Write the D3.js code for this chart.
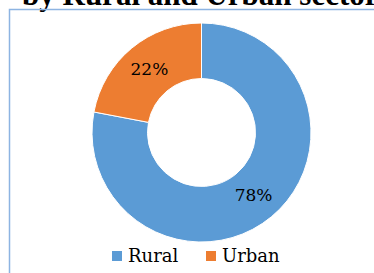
<!DOCTYPE html>
<html>
<head>
<meta charset="utf-8">
<script src="https://cdn.jsdelivr.net/npm/d3@7"></script>
<style>
  body { margin: 0; background: #fff; }
  svg { display: block; }
</style>
</head>
<body>
<svg id="svg" width="374" height="273"></svg>
<script>
var sectors = ["Rural", "Urban"];
var shares = [78, 22];
var colours = ["#5b9bd5", "#ed7d31"];
var title = "by Rural and Urban sector";

function draw() {
  var svg = d3.select("#svg");

  // title (cut off at the top in the original)
  svg.append("text")
    .attr("x", 22)
    .attr("y", 5)
    .attr("font-family", "Liberation Serif")
    .attr("font-weight", "bold")
    .attr("font-size", 31)
    .attr("fill", "#000")
    .text(title);

  // chart frame, runs off the right and bottom edges
  svg.append("path")
    .attr("d", "M9.5,280 L9.5,9.5 L380,9.5")
    .attr("fill", "none")
    .attr("stroke", "#8db4e2")
    .attr("stroke-width", 1.5);

  var cx = 201.5, cy = 132.5;
  var outerR = 109.5, innerR = 54;

  var colour = d3.scaleOrdinal().domain(sectors).range(colours);

  var pie = d3.pie().sort(null).value(function(d) { return d.v; });
  var data = sectors.map(function(s, i) { return {name: s, v: shares[i]}; });
  var arcs = pie(data);

  var arc = d3.arc().innerRadius(innerR).outerRadius(outerR);
  var labelArc = d3.arc().innerRadius((innerR + outerR) / 2).outerRadius((innerR + outerR) / 2);

  var g = svg.append("g").attr("transform", "translate(" + cx + "," + cy + ")");

  g.selectAll("path.slice")
    .data(arcs)
    .enter()
    .append("path")
    .attr("class", "slice")
    .attr("d", arc)
    .attr("fill", function(d) { return colour(d.data.name); })
    .attr("stroke", "#fff")
    .attr("stroke-width", 1);

  g.selectAll("text.lbl")
    .data(arcs)
    .enter()
    .append("text")
    .attr("class", "lbl")
    .attr("transform", function(d) { return "translate(" + labelArc.centroid(d) + ")"; })
    .attr("text-anchor", "middle")
    .attr("dy", "0.35em")
    .attr("font-family", "DejaVu Serif")
    .attr("font-size", 17)
    .attr("fill", "#000")
    .text(function(d) { return d.data.v + "%"; });

  // legend
  var legendX = d3.scaleOrdinal().domain(sectors).range([112, 206]);
  var lg = svg.selectAll("g.legend")
    .data(sectors)
    .enter()
    .append("g")
    .attr("class", "legend")
    .attr("transform", function(d) { return "translate(" + legendX(d) + ",251)"; });

  lg.append("rect")
    .attr("width", 10)
    .attr("height", 10)
    .attr("fill", function(d) { return colour(d); });

  lg.append("text")
    .attr("x", 16)
    .attr("y", 11)
    .attr("font-family", "DejaVu Serif")
    .attr("font-size", 18)
    .attr("fill", "#000")
    .text(function(d) { return d; });
}
draw();
</script>
</body>
</html>
